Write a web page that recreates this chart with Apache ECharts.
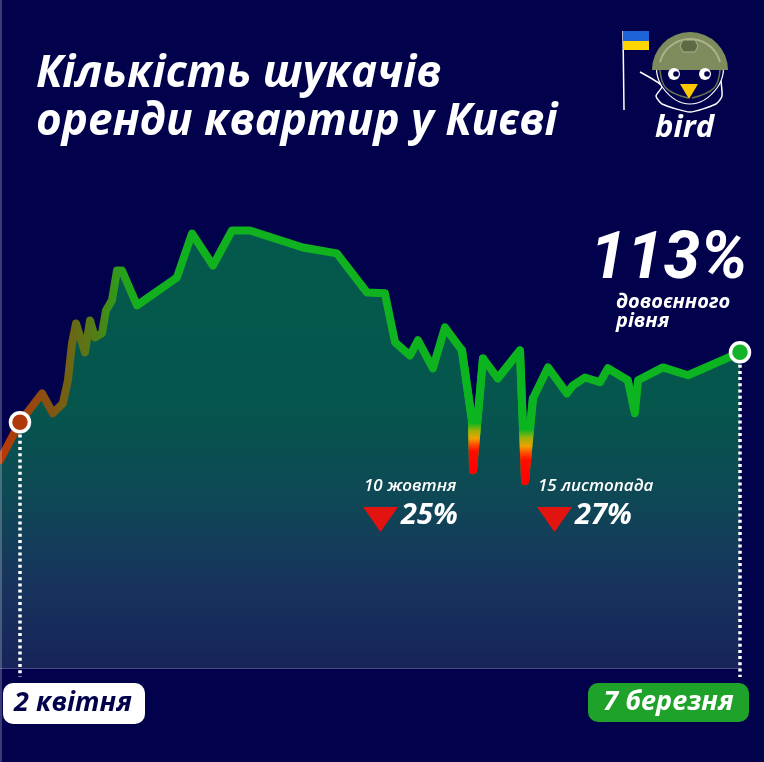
<!DOCTYPE html>
<html>
<head>
<meta charset="utf-8">
<script src="https://cdn.jsdelivr.net/npm/echarts@6/dist/echarts.min.js"></script>
<style>
html,body{margin:0;padding:0;background:#02024c;}
#chart{width:764px;height:762px;}
</style>
</head>
<body>
<div id="chart"></div>
<script>
// ---- data (x: days from 2 April, y: % of pre-war level) ----
const days = [-9.4, 0, 10.4, 15.5, 20.2, 22.6, 24.5, 26.4, 30.6, 33.0, 35.3, 38.6, 40.5, 43.3, 45.7, 48.0, 55.1, 73.9, 81.0, 90.9, 99.8, 108.3, 133.2, 149.2, 163.4, 171.8, 176.6, 183.6, 187.4, 194.4, 200.1, 208.1, 212.8, 213.3, 218.0, 225.0, 235.4, 237.8, 241.5, 248.6, 257.5, 260.4, 266.0, 273.1, 276.8, 286.2, 289.5, 291.0, 302.7, 314.5, 339];
const values = [74.4, 88.0, 98.3, 91.2, 94.7, 103.0, 116.2, 123.3, 113.0, 124.4, 118.3, 119.8, 128.0, 131.6, 142.3, 142.3, 129.8, 139.8, 155.5, 144.1, 156.6, 156.6, 150.5, 148.4, 134.4, 134.1, 116.6, 111.9, 117.3, 107.3, 121.9, 113.7, 88.7, 70.8, 110.8, 103.7, 113.7, 66.9, 96.5, 107.6, 98.3, 101.2, 104.0, 102.3, 107.3, 103.0, 91.2, 103.0, 107.6, 104.8, 113.0];
const startDay = 0;
const endDay = 339;
const startLabel = '2 квітня';
const endLabel = '7 березня';
const dipDays = [213.3, 237.8];
const dipLabels = ['10 жовтня', '15 листопада'];
const dipDrops = ['25%', '27%'];
const titleLines = ['Кількість шукачів', 'оренди квартир у Києві'];
const headline = '113%';
const headlineSub = ['довоєнного', 'рівня'];
const brand = 'bird';

const BG = '#02024c';
const GREEN = '#0bb520';
const FONT = '"Open Sans", "Noto Sans", sans-serif';

const lineData = days.map((d, i) => [d, values[i]]);
const startIdx = days.indexOf(startDay);
const endIdx = days.indexOf(endDay);
const dipSeries = dipDays.map(d => {
  const i = days.indexOf(d);
  return lineData.slice(i - 2, i + 2);
});

const chart = echarts.init(document.getElementById('chart'));

function spikeGrad() {
  return new echarts.graphic.LinearGradient(0, 0, 0, 1, [
    {offset: 0, color: GREEN},
    {offset: 0.6, color: GREEN},
    {offset: 0.66, color: '#9fb20a'},
    {offset: 0.72, color: '#f0a000'},
    {offset: 0.77, color: '#ff4a00'},
    {offset: 0.82, color: '#ff0d00'},
    {offset: 1, color: '#ff0000'}
  ]);
}

const series = [
  {
    type: 'line',
    data: lineData,
    symbol: 'none',
    z: 2,
    lineStyle: {
      width: 8,
      join: 'round',
      cap: 'round',
      color: new echarts.graphic.LinearGradient(0, 0, 1, 0, [
        {offset: 0, color: '#b8380a'},
        {offset: 0.03, color: '#a8400a'},
        {offset: 0.06, color: '#8e4c10'},
        {offset: 0.1, color: '#6d6614'},
        {offset: 0.13, color: '#537c17'},
        {offset: 0.16, color: '#33981a'},
        {offset: 0.19, color: '#12b01e'},
        {offset: 1, color: GREEN}
      ])
    },
    areaStyle: {
      opacity: 1,
      color: new echarts.graphic.LinearGradient(0, 0, 0, 1, [
        {offset: 0, color: '#03594b'},
        {offset: 0.4, color: '#05564d'},
        {offset: 0.6, color: '#0e4955'},
        {offset: 0.8, color: '#17345d'},
        {offset: 1, color: '#172459'}
      ])
    },
    markLine: {
      silent: true,
      symbol: 'none',
      animation: false,
      label: {show: false},
      lineStyle: {color: '#ffffff', width: 3.5, type: [3, 3.2], opacity: 1},
      data: [
        [{coord: [startDay, values[startIdx]]}, {coord: [startDay, -3.2]}],
        [{coord: [endDay, values[endIdx]]}, {coord: [endDay, -3.2]}]
      ]
    }
  }
];
dipSeries.forEach(d => {
  series.push({
    type: 'line',
    data: d,
    symbol: 'none',
    z: 3,
    lineStyle: {width: 8, join: 'round', cap: 'round', color: spikeGrad()}
  });
});
series.push({
  type: 'scatter',
  z: 5,
  symbolSize: 19,
  data: [
    {value: lineData[startIdx], itemStyle: {color: '#b0390b'}},
    {value: lineData[endIdx], itemStyle: {color: '#14b42a'}}
  ],
  itemStyle: {borderColor: '#ffffff', borderWidth: 3.5, opacity: 1},
  silent: true
});

// layout of annotation texts (positions are styling only)
const dipPos = [{x: 363, y: 478}, {x: 537, y: 478}];
const graphics = [];
graphics.push({type: 'line', shape: {x1: 1, y1: 0, x2: 1, y2: 762}, style: {stroke: 'rgba(255,255,255,0.45)', lineWidth: 1}, silent: true});
graphics.push({
  type: 'text', left: 36, top: 50,
  style: {text: titleLines.join('\n'), fill: '#ffffff', font: 'italic bold 44px ' + FONT, lineHeight: 48}
});
graphics.push({
  type: 'text', left: 590, top: 228,
  style: {text: headline, fill: '#ffffff', font: 'italic bold 66px Roboto, ' + FONT}
});
graphics.push({
  type: 'text', left: 616, top: 292,
  style: {text: headlineSub.join('\n'), fill: '#ffffff', font: 'italic bold 20px ' + FONT, lineHeight: 19}
});
dipLabels.forEach((t, i) => {
  const p = dipPos[i];
  graphics.push({type: 'text', left: p.x + 1, top: p.y, style: {text: t, fill: '#ffffff', font: 'italic 600 17px ' + FONT}});
  graphics.push({type: 'polygon', shape: {points: [[p.x, p.y + 29], [p.x + 35, p.y + 29], [p.x + 17.5, p.y + 54]]}, style: {fill: '#e1140f'}});
  graphics.push({type: 'text', left: p.x + 38, top: p.y + 23, style: {text: dipDrops[i], fill: '#ffffff', font: 'italic bold 29px ' + FONT}});
});
// date labels
graphics.push({type: 'rect', shape: {x: 3, y: 683, width: 142, height: 41, r: 10}, style: {fill: '#ffffff'}});
graphics.push({type: 'text', x: 73, y: 703.5, style: {text: startLabel, fill: BG, font: 'italic bold 27px ' + FONT, align: 'center', verticalAlign: 'middle'}});
graphics.push({type: 'rect', shape: {x: 588, y: 683, width: 161, height: 39, r: 10}, style: {fill: '#1fa229'}});
graphics.push({type: 'text', x: 668.5, y: 702.5, style: {text: endLabel, fill: '#ffffff', font: 'italic bold 27px ' + FONT, align: 'center', verticalAlign: 'middle'}});
// logo
graphics.push({type: 'line', shape: {x1: 623, y1: 31, x2: 624, y2: 110}, style: {stroke: '#ffffff', lineWidth: 1.5}});
graphics.push({type: 'rect', shape: {x: 623, y: 31, width: 26, height: 10}, style: {fill: '#1f63d8'}});
graphics.push({type: 'rect', shape: {x: 623, y: 41, width: 26, height: 9}, style: {fill: '#ffd500'}});
graphics.push({type: 'polyline', shape: {points: [[640, 72], [662, 86], [656, 96], [662, 104], [690, 112], [716, 104], [722, 96], [720, 74]], smooth: 0.2}, style: {fill: 'none', stroke: '#ffffff', lineWidth: 1.5}});
graphics.push({type: 'polygon', shape: {points: [[660, 64], [663, 88], [690, 104], [717, 88], [720, 64]], smooth: 0.4}, style: {fill: BG, stroke: '#ffffff', lineWidth: 1.2}});
graphics.push({type: 'sector', shape: {cx: 690, cy: 70, r: 38, r0: 0, startAngle: Math.PI, endAngle: Math.PI * 2}, style: {fill: '#7e8b5d'}});
graphics.push({type: 'arc', shape: {cx: 690, cy: 70, r: 31, startAngle: Math.PI * 1.08, endAngle: Math.PI * 1.92}, style: {fill: 'none', stroke: '#aab28a', lineWidth: 2}});
graphics.push({type: 'polygon', shape: {points: [[683, 40], [695, 40], [698, 46], [695, 52], [683, 52], [680, 46]]}, style: {fill: '#5e6a44', stroke: '#aab28a', lineWidth: 1}});
graphics.push({type: 'polyline', shape: {points: [[660, 70], [666, 88], [688, 98]], smooth: 0.4}, style: {fill: 'none', stroke: '#6a7650', lineWidth: 1.5}});
graphics.push({type: 'polyline', shape: {points: [[720, 70], [714, 88], [692, 98]], smooth: 0.4}, style: {fill: 'none', stroke: '#6a7650', lineWidth: 1.5}});
graphics.push({type: 'circle', shape: {cx: 674, cy: 74, r: 6}, style: {fill: '#ffffff'}});
graphics.push({type: 'circle', shape: {cx: 705, cy: 74, r: 6}, style: {fill: '#ffffff'}});
graphics.push({type: 'circle', shape: {cx: 676, cy: 74, r: 2.8}, style: {fill: BG}});
graphics.push({type: 'circle', shape: {cx: 707, cy: 74, r: 2.8}, style: {fill: BG}});
graphics.push({type: 'polygon', shape: {points: [[680, 84], [698, 84], [689, 99]]}, style: {fill: '#ffc800'}});
graphics.push({type: 'text', left: 655, top: 113, style: {text: brand, fill: '#ffffff', font: 'italic bold 31px ' + FONT}});
graphics.forEach(g => { g.z = 100; });

chart.setOption({
  backgroundColor: BG,
  animation: false,
  grid: {left: 0, right: 24, top: 221, bottom: 85},
  xAxis: {
    type: 'value', min: -9.4, max: 339,
    axisLine: {show: true, onZero: true, lineStyle: {color: '#4b4b86', width: 2}},
    axisTick: {show: false}, axisLabel: {show: false}, splitLine: {show: false}
  },
  yAxis: {type: 'value', min: -3.2, max: 160, show: false, splitLine: {show: false}},
  series: series,
  graphic: graphics
});
</script>
</body>
</html>
